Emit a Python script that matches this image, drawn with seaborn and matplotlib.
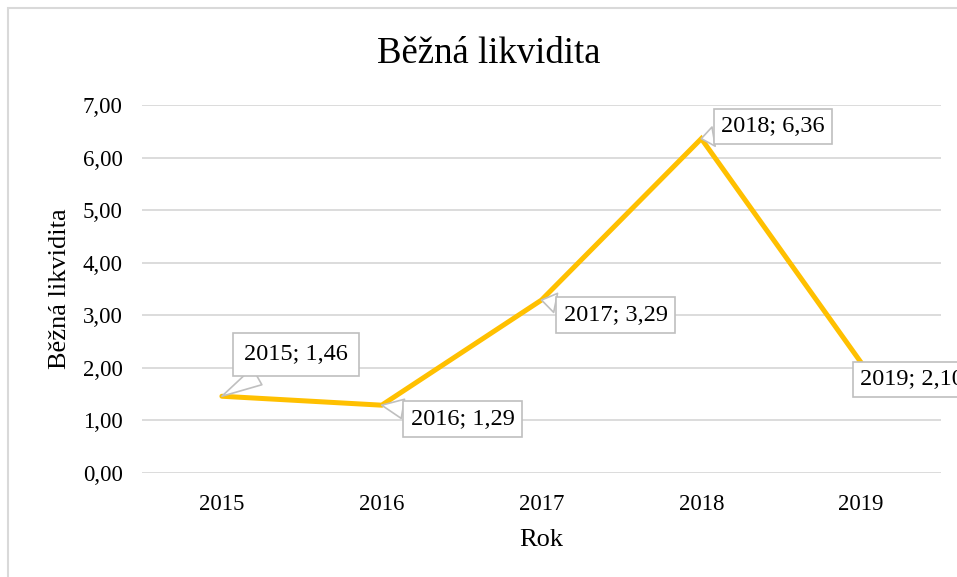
import pandas as pd
import seaborn as sns
import matplotlib.pyplot as plt
from matplotlib.patches import Rectangle
from matplotlib.ticker import FuncFormatter, MultipleLocator

# data
years = ["2015", "2016", "2017", "2018", "2019"]
likvidita = [1.46, 1.29, 3.29, 6.36, 2.10]

# label callout offsets (pixels) relative to each point
label_dx = [74, 81, 74, 72, 51]
label_dy = [42, -14, -15, 12, -17]
label_pad = [0.45, 0.3, 0.3, 0.3, 0.3]

sns.set_theme(style="white")
plt.rcParams["font.family"] = ["Liberation Serif", "DejaVu Serif"]
plt.rcParams["text.color"] = "black"
plt.rcParams["axes.labelcolor"] = "black"

df = pd.DataFrame({"Rok": years, "Běžná likvidita": likvidita})

fig = plt.figure(figsize=(9.57, 5.77), dpi=100)
ax = fig.add_axes([142 / 957, 104 / 577, (941 - 142) / 957, (473 - 105) / 577])

sns.lineplot(data=df, x="Rok", y="Běžná likvidita", color="#FFC000",
             linewidth=3.6, ax=ax, sort=False)
for line in ax.lines:
    line.set_solid_capstyle("round")
    line.set_solid_joinstyle("miter")

ax.set_xlim(-0.5, 4.5)
ax.set_ylim(0, 7)
ax.yaxis.set_major_locator(MultipleLocator(1))
ax.yaxis.set_major_formatter(FuncFormatter(lambda v, p: f"{v:.2f}".replace(".", ",")))
ax.grid(axis="y", color="#D9D9D9", linewidth=1.3)
ax.set_axisbelow(True)
for s in ax.spines.values():
    s.set_visible(False)
ax.tick_params(axis="both", length=0, labelsize=16.5, colors="black")
ax.tick_params(axis="x", pad=15)
ax.tick_params(axis="y", pad=14)

ax.set_xlabel("Rok", fontsize=19, labelpad=10)
ax.set_ylabel("Běžná likvidita", fontsize=19, labelpad=8)
fig.text(489 / 957, 1 - 54 / 577, "Běžná likvidita", ha="center", va="center", fontsize=26.5)

# data labels as callouts
for i, (yr, val) in enumerate(zip(years, likvidita)):
    txt = f"{yr}; {val:.2f}".replace(".", ",")
    ax.annotate(txt, xy=(i, val), xytext=(label_dx[i], label_dy[i]),
                textcoords="offset pixels", ha="center", va="center",
                fontsize=17.5, zorder=5, annotation_clip=False,
                bbox=dict(boxstyle=f"square,pad={label_pad[i]}", fc="white", ec="#BFBFBF", lw=1.2),
                arrowprops=dict(arrowstyle="wedge,tail_width=0.8,shrink_factor=0.5",
                                fc="white", ec="#BFBFBF", lw=1.2, shrinkA=0, shrinkB=0))

# chart border (cut off at the right and bottom like the reference)
fig.patches.append(Rectangle((8 / 957, -0.1), 1.2, 1 - 8 / 577 + 0.1, transform=fig.transFigure,
                             fill=False, ec="#D9D9D9", lw=1.5, zorder=0))

fig.savefig("out.png", dpi=100)
